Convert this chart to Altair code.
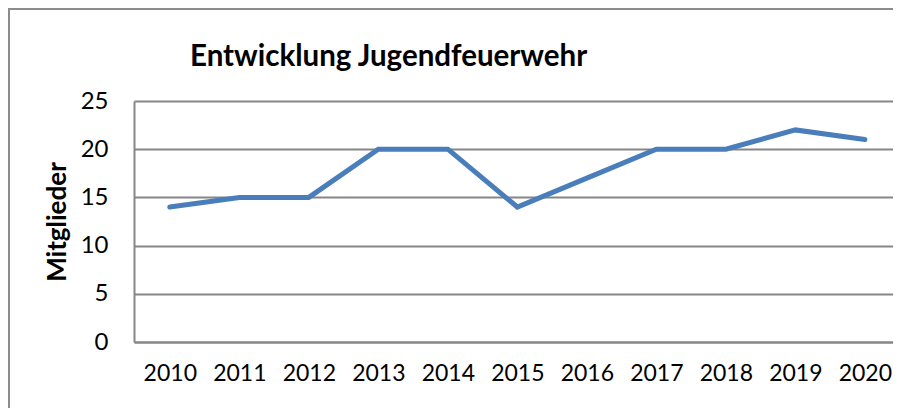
import altair as alt
import pandas as pd

years = ["2010", "2011", "2012", "2013", "2014", "2015", "2016", "2017", "2018", "2019", "2020"]
members = [14, 15, 15, 20, 20, 14, 17, 20, 20, 22, 21]
y_ticks = [0, 5, 10, 15, 20, 25]
chart_title = "Entwicklung Jugendfeuerwehr"

df = pd.DataFrame({"Jahr": years, "Mitglieder": members})
title_df = pd.DataFrame({"t": [chart_title]})

FONT = "Lato"
GRID = "#868686"

border_left = alt.Chart(title_df).mark_rule(color="#8c8c8c", strokeWidth=2).encode(
    x=alt.value(-125), y=alt.value(-92), y2=alt.value(307)
)
border_top = alt.Chart(title_df).mark_rule(color="#8c8c8c", strokeWidth=2).encode(
    x=alt.value(-126), x2=alt.value(759), y=alt.value(-92)
)

title = alt.Chart(title_df).mark_text(
    align="left", baseline="alphabetic", font=FONT, fontSize=29.5, fontWeight="bold", color="#000"
).encode(text="t:N", x=alt.value(56), y=alt.value(-35))

line = alt.Chart(df).mark_line(color="#4a7ebb", strokeWidth=5, strokeCap="round", strokeJoin="miter").encode(
    x=alt.X("Jahr:O", sort=years,
            scale=alt.Scale(type="point", padding=0.46, align=0.56),
            axis=alt.Axis(title=None, labelAngle=0, ticks=False, domain=True,
                          domainColor=GRID, domainWidth=2, labelPadding=20,
                          labelFontSize=23, labelFont=FONT, labelColor="#000")),
    y=alt.Y("Mitglieder:Q", scale=alt.Scale(domain=[0, 25], nice=False),
            axis=alt.Axis(values=y_ticks, title="Mitglieder", titleFont=FONT,
                          titleFontSize=26, titleFontWeight="bold", titleColor="#000",
                          titlePadding=10, ticks=False, domainColor=GRID, domainWidth=2,
                          gridColor=GRID, gridWidth=2, labelPadding=26,
                          labelFontSize=24, labelFont=FONT, labelColor="#000")),
)

chart = alt.layer(border_left, border_top, title, line).properties(
    width=759, height=241,
    autosize=alt.AutoSizeParams(type="none"),
    padding={"left": 126, "top": 93, "right": 0, "bottom": 66},
).configure_view(stroke=None)

chart.save("out.html", embed_options={"renderer": "svg", "actions": False})
